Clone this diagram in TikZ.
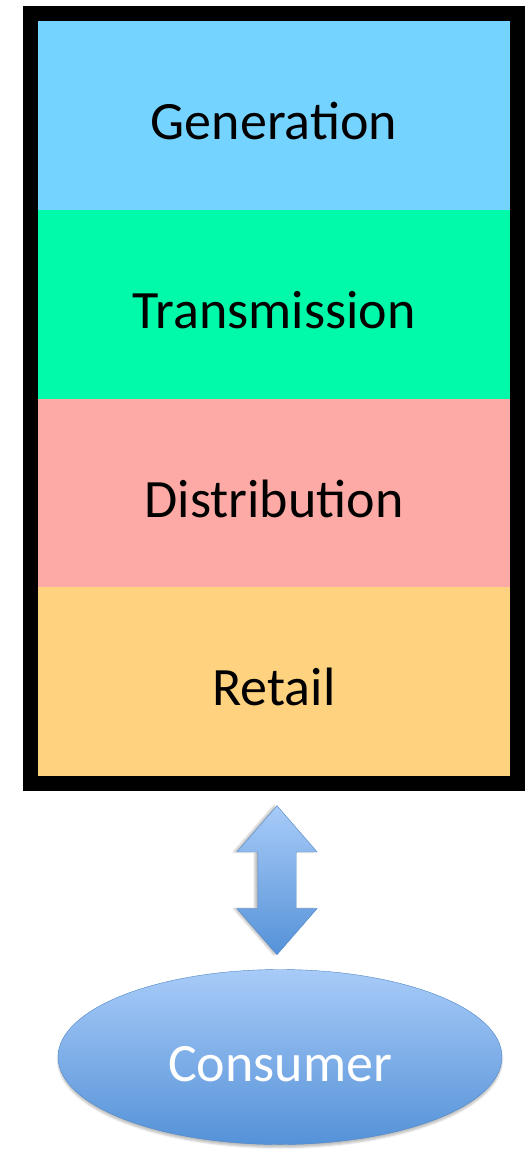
\documentclass[tikz,border=0pt]{standalone}
\usepackage{fontspec}
\setmainfont{Carlito}
\usetikzlibrary{positioning,fit,calc,shapes.geometric,shapes.arrows,shadows.blur}

\definecolor{genblue}{HTML}{75D4FF}
\definecolor{transgreen}{HTML}{00FAAA}
\definecolor{distred}{HTML}{FDA9A6}
\definecolor{retailyellow}{HTML}{FED27E}
\definecolor{lightblue}{HTML}{A8CBF8}
\definecolor{darkblue}{HTML}{5592D8}
\definecolor{edgeblue}{HTML}{4F86C6}

\begin{document}
\begin{tikzpicture}[x=1pt, y=1pt,
    nodes = {align = center},
    layer/.style = {rectangle, minimum width=472pt, minimum height=188.75pt,
        inner sep=0pt, outer sep=0pt, text height=48pt, text depth=0pt,
        font=\fontsize{54}{60}\selectfont}]
    \useasboundingbox (0,0) rectangle (531,-1149);
    \node (gen) [layer, fill=genblue] at (274,-115.5) {Generation};
    \node (trans) [layer, fill=transgreen, below = 0pt of gen] {Transmission};
    \node (dist) [layer, fill=distred, below = 0pt of trans] {Distribution};
    \node (retail) [layer, fill=retailyellow, below = 0pt of dist] {Retail};
    \node (market) [draw, line width=15pt, inner sep=7.5pt, fit=(gen) (retail)] {};
    \node (consumer) [ellipse, draw=edgeblue, thin, top color=lightblue, bottom color=darkblue,
        minimum width=444pt, minimum height=175pt, inner sep=0pt,
        text height=48pt, text depth=0pt,
        blur shadow={shadow xshift=0pt, shadow yshift=-3pt, shadow opacity=25},
        text=white, font=\fontsize{54}{60}\selectfont] at (280,-1057) {Consumer};
    \node (link) [double arrow, draw=edgeblue, thin, top color=lightblue, bottom color=darkblue,
        rotate=90, minimum height=149pt, minimum width=80pt, inner xsep=0pt, inner ysep=19pt,
        double arrow head extend=21pt, double arrow tip angle=82,
        blur shadow={shadow xshift=-3pt, shadow yshift=0pt, shadow opacity=25}]
        at ($(market.south)!0.5!(consumer.north)$) {};
\end{tikzpicture}
\end{document}
